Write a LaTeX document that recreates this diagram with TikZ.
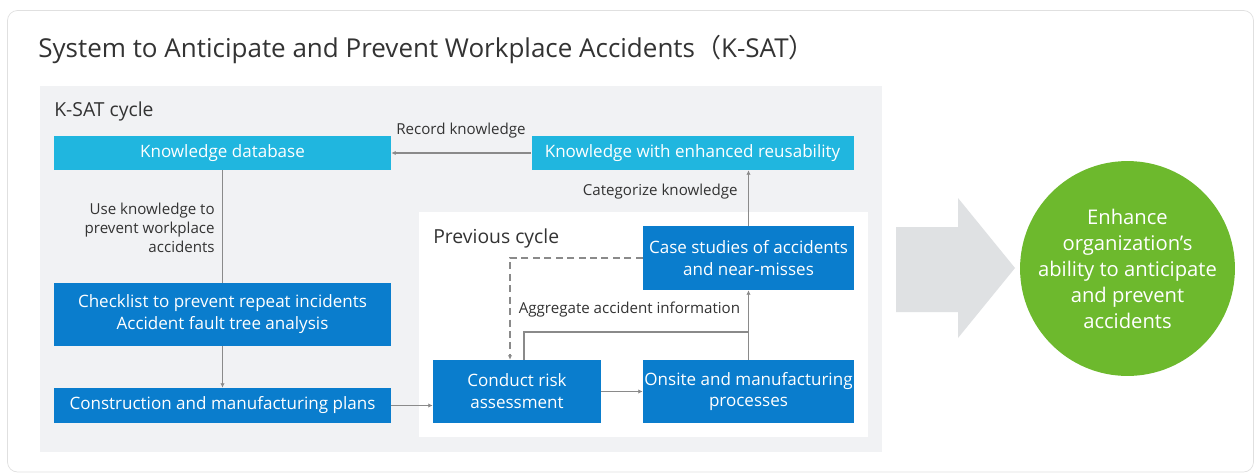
\documentclass[tikz,border=0pt]{standalone}
\usepackage{fontspec}
\setmainfont{Open Sans}
\newfontfamily\cjk{Noto Sans CJK JP}
\usetikzlibrary{positioning,calc,arrows.meta}

\definecolor{ksatcyan}{HTML}{20B6DF}
\definecolor{ksatblue}{HTML}{0A7DCD}
\definecolor{ksatpanel}{HTML}{F1F2F4}
\definecolor{ksatgreen}{HTML}{6DB92D}
\definecolor{ksatarrow}{HTML}{DFE1E3}
\definecolor{ksatline}{HTML}{8A8A8A}
\definecolor{ksattext}{HTML}{333333}

\tikzset{
  cyanbox/.style={fill=ksatcyan,text=white,inner sep=0pt,align=center,
    font=\fontsize{9.7}{12.5}\selectfont},
  bluebox/.style={fill=ksatblue,text=white,inner sep=0pt,align=center,
    font=\fontsize{9.7}{12.5}\selectfont},
  lbl/.style={text=ksattext,inner sep=0pt,font=\fontsize{8.6}{10.8}\selectfont},
  link/.style={draw=ksatline,line width=0.7pt},
  flow/.style={link,-{Latex[length=2.5pt,width=2.5pt]}}
}

\begin{document}
\begin{tikzpicture}[x=0.02cm,y=-0.02cm]
      \useasboundingbox (0,0) rectangle (1255,474);
      % card and panels
      \draw[draw=black!12,fill=white,rounded corners=0.2cm] (7.5,10.5) rectangle (1253.5,472);
      \node[anchor=west,text=ksattext,inner sep=0pt,font=\fontsize{14.8}{16}\selectfont] (title) at (38,49)
        {System to Anticipate and Prevent Workplace Accidents{\cjk （}K-SAT{\cjk ）}};
      \fill[ksatpanel] (40,86) rectangle (882,452);
      \fill[white] (419,212) rectangle (868,437);
      \node[anchor=west,text=ksattext,inner sep=0pt,font=\fontsize{11}{13}\selectfont] (ksat) at (54,111) {K-SAT cycle};
      \node[anchor=west,text=ksattext,inner sep=0pt,font=\fontsize{11}{13}\selectfont] (prev) at (433,238) {Previous cycle};
      % boxes
      \node[cyanbox,minimum width=337*0.02cm,minimum height=34*0.02cm] (kdb) at (222.5,153) {Knowledge database};
      \node[cyanbox,minimum width=322*0.02cm,minimum height=34*0.02cm] (kre) at (692.5,153) {Knowledge with enhanced reusability};
      \node[bluebox,minimum width=337*0.02cm,minimum height=63*0.02cm] (chk) at (222.5,314.5) {Checklist to prevent repeat incidents\\Accident fault tree analysis};
      \node[bluebox,minimum width=337*0.02cm,minimum height=35*0.02cm] (cmp) at (222.5,405.5) {Construction and manufacturing plans};
      \node[bluebox,minimum width=211*0.02cm,minimum height=64*0.02cm] (case) at (748.5,258) {Case studies of accidents\\and near-misses};
      \node[bluebox,minimum width=168*0.02cm,minimum height=63*0.02cm] (risk) at (517,391.5) {Conduct risk\\assessment};
      \node[bluebox,minimum width=211*0.02cm,minimum height=63*0.02cm] (onsite) at (748.5,391.5) {Onsite and manufacturing\\processes};
      % connectors
      \coordinate (agg) at (524,332);
      \coordinate (dsh) at (510,258);
      \draw[flow] (kre.west) -- (kdb.east);
      \draw[link] (kdb.south) -- (chk.north);
      \draw[flow] (chk.south) -- (cmp.north);
      \draw[flow] (cmp.east) -- (cmp.east -| risk.west);
      \draw[flow] (risk.east) -- (onsite.west);
      \draw[link] (risk.north -| agg) |- (onsite.north |- agg);
      \draw[flow] (onsite.north) -- (case.south);
      \draw[flow,dashed,dash pattern=on 4pt off 2.5pt] (case.west) -| (risk.north -| dsh);
      \draw[flow] (case.north) -- (case.north |- kre.south);
      % labels
      \node[lbl] (reclbl) at (461,131) {Record knowledge};
      \node[lbl,anchor=east,align=right] (uselbl) at (215,228) {Use knowledge to\\prevent workplace\\accidents};
      \node[lbl,anchor=east] (catlbl) at (738,192) {Categorize knowledge};
      \node[lbl] (agglbl) at (629.5,310) {Aggregate accident information};
      % result
      \fill[ksatarrow] (896,227) -- (958,227) -- (958,198) -- (1015,268) -- (958,338) -- (958,312) -- (896,312) -- cycle;
      \node[circle,fill=ksatgreen,text=white,minimum size=195*0.02cm,inner sep=0pt,align=center,
        font=\fontsize{11.5}{14.8}\selectfont] (goal) at (1127.5,268.5)
        {Enhance\\organization’s\\ability to anticipate\\and prevent\\accidents};
    \end{tikzpicture}
\end{document}
